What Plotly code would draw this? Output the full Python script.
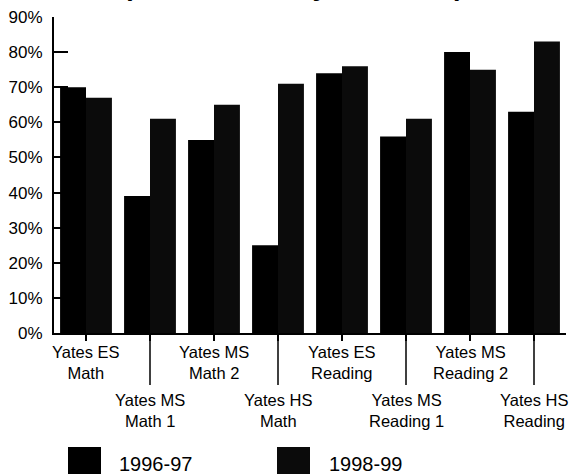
import plotly.graph_objects as go

categories = ["Yates ES Math", "Yates MS Math 1", "Yates MS Math 2", "Yates HS Math",
              "Yates ES Reading", "Yates MS Reading 1", "Yates MS Reading 2", "Yates HS Reading"]
cat_labels = ["Yates ES<br>Math", "Yates MS<br>Math 1", "Yates MS<br>Math 2", "Yates HS<br>Math",
              "Yates ES<br>Reading", "Yates MS<br>Reading 1", "Yates MS<br>Reading 2", "Yates HS<br>Reading"]
series_names = ["1996-97", "1998-99"]
vals_1996 = [70, 39, 55, 25, 74, 56, 80, 63]
vals_1998 = [67, 61, 65, 71, 76, 61, 75, 83]
y_ticks = [0, 10, 20, 30, 40, 50, 60, 70, 80, 90]
title_text = "(Percent Met by Standard)"

W, H = 573, 474
ML, MR, MT, MB = 54, 7, 17, 141
PW, PH = W - ML - MR, H - MT - MB

def py(p):  # pixel y -> paper y
    return (H - MB - p) / PH

def px(p):  # pixel x -> paper x
    return (p - ML) / PW

FONT = "Liberation Sans, Arial, sans-serif"

fig = go.Figure()
fig.add_trace(go.Bar(x=categories, y=vals_1996, name=series_names[0],
                     marker=dict(color="#000000", line=dict(width=0)), showlegend=False))
fig.add_trace(go.Bar(x=categories, y=vals_1998, name=series_names[1],
                     marker=dict(color="#0b0b0b", line=dict(width=0)), showlegend=False))

annotations = []
shapes = []
for i, (c, lab) in enumerate(zip(categories, cat_labels)):
    top = 341 if i % 2 == 0 else 389
    annotations.append(dict(x=c, xref="x", y=py(top), yref="paper", yanchor="top",
                            text=lab, showarrow=False, align="center",
                            font=dict(size=16.5, family=FONT, color="black")))
    if i % 2 == 1:
        shapes.append(dict(type="line", xref="x", yref="paper", x0=c, x1=c,
                           y0=0, y1=py(385), line=dict(color="black", width=1.5)))

# title (cut off at top)
annotations.append(dict(x=px(293), xref="paper", y=py(3), yref="paper", yanchor="bottom",
                        text="<b>" + title_text + "</b>", showarrow=False,
                        font=dict(size=27.5, family=FONT, color="black")))

# legend
leg = [(68, 101, 117, series_names[0], "#000000"), (277, 310, 327, series_names[1], "#0b0b0b")]
for x0, x1, tx, name, col in leg:
    shapes.append(dict(type="rect", xref="paper", yref="paper", x0=px(x0), x1=px(x1),
                       y0=py(447), y1=py(480), fillcolor=col, line=dict(width=0)))
    annotations.append(dict(x=px(tx), xref="paper", y=py(464), yref="paper",
                            xanchor="left", yanchor="middle", text=name, showarrow=False,
                            font=dict(size=20, family=FONT, color="black")))

fig.update_layout(
    width=W, height=H,
    margin=dict(l=ML, r=MR, t=MT, b=MB, pad=0, autoexpand=False),
    paper_bgcolor="white", plot_bgcolor="white",
    barmode="group", bargap=0.19, bargroupgap=0,
    annotations=annotations, shapes=shapes,
    showlegend=False,
    font=dict(family=FONT, color="black"),
)
fig.update_xaxes(range=[-0.5, 7.5], showticklabels=False, ticks="outside", ticklen=6,
                 tickwidth=1.5, tickcolor="black", showline=True, linecolor="black",
                 linewidth=2, showgrid=False, zeroline=False, automargin=False)
fig.update_yaxes(range=[0, 90], tickvals=y_ticks, ticktext=[f"{v}%" for v in y_ticks],
                 ticks="inside", ticklen=14, tickwidth=1.5, tickcolor="black",
                 showline=True, linecolor="black", linewidth=2, showgrid=False,
                 zeroline=False, tickfont=dict(size=17, family=FONT, color="black"),
                 ticklabelstandoff=6, automargin=False)

fig.write_html("out.html", config={"displayModeBar": False},
               post_script="document.body.style.margin='0';document.body.style.overflow='hidden';")
